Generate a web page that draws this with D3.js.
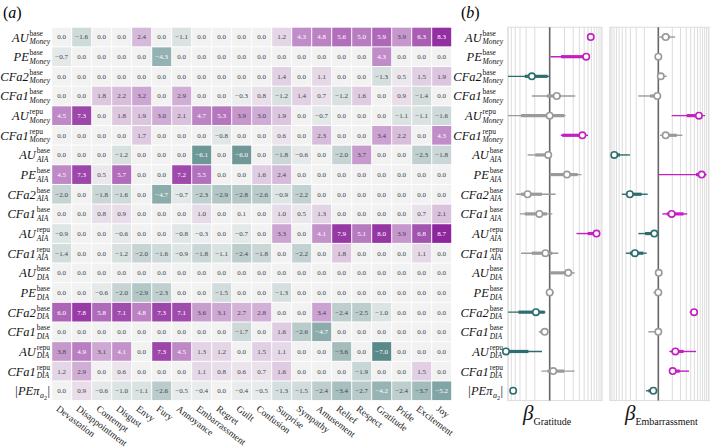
<!DOCTYPE html>
<html><head><meta charset="utf-8">
<script src="https://cdn.jsdelivr.net/npm/d3@7"></script>
<style>
body{margin:0;background:#fff;}
text{font-family:"Liberation Serif","DejaVu Serif",serif;}
</style></head>
<body><svg id="chart" width="710" height="447"></svg>
<script>
const emotions = ["Devastation","Disappointment","Contempt","Disgust","Envy","Fury","Annoyance","Embarrassment","Regret","Guilt","Confusion","Surprise","Sympathy","Amusement","Relief","Respect","Gratitude","Pride","Excitement","Joy"];
const rowNames = ["AU","PE","CFa2","CFa1","AU","CFa1","AU","PE","CFa2","CFa1","AU","CFa1","AU","PE","CFa2","CFa1","AU","CFa1","|PEπ"];
const rowSup = ["base","base","base","base","repu","repu","base","base","base","base","repu","repu","base","base","base","base","repu","repu",""];
const rowSub = ["Money","Money","Money","Money","Money","Money","AIA","AIA","AIA","AIA","AIA","AIA","DIA","DIA","DIA","DIA","DIA","DIA","a"];

const values = [
 [0.0,-1.6,0.0,0.0,2.4,0.0,-1.1,0.0,0.0,0.0,0.0,1.2,4.3,4.8,5.6,5.0,5.9,3.9,6.3,8.3],
 [-0.7,0.0,0.0,0.0,0.0,-4.3,0.0,0.0,0.0,0.0,0.0,0.0,0.0,0.0,0.0,0.0,4.3,0.0,0.0,0.0],
 [0.0,0.0,0.0,0.0,0.0,0.0,0.0,0.0,0.0,0.0,0.0,1.4,0.0,1.1,0.0,0.0,-1.3,0.5,1.5,1.9],
 [0.0,0.0,1.8,2.2,3.2,0.0,2.9,0.0,0.0,-0.3,0.8,-1.2,1.4,0.7,-1.2,1.6,0.0,0.9,-1.4,0.0],
 [4.5,7.3,0.0,1.8,1.9,3.0,2.1,4.7,5.3,3.9,3.0,1.9,0.0,-0.7,0.0,0.0,0.0,-1.1,-1.1,-1.6],
 [0.0,0.0,0.0,0.0,1.7,0.0,0.0,0.0,-0.8,0.0,0.0,0.6,0.0,2.3,0.0,0.0,3.4,2.2,0.0,4.3],
 [0.0,0.0,0.0,-1.2,0.0,0.0,0.0,-6.1,0.0,-6.0,0.0,-1.8,-0.6,0.0,-2.0,3.7,0.0,0.0,-2.3,-1.8],
 [4.5,7.3,0.5,5.7,0.0,0.0,7.2,5.5,0.0,0.0,1.6,2.4,0.0,0.0,0.0,0.0,0.0,0.0,0.0,0.0],
 [-2.0,0.0,-1.8,-1.6,0.0,-4.7,-0.7,-2.3,-2.9,-2.8,-2.6,-0.9,-2.2,0.0,0.0,0.0,0.0,0.0,0.0,0.0],
 [0.0,0.0,0.8,0.9,0.0,0.0,0.0,1.0,0.0,0.1,0.0,1.0,0.5,1.3,0.0,0.0,0.0,0.0,0.7,2.1],
 [-0.9,0.0,0.0,-0.6,0.0,0.0,-0.8,-0.3,0.0,-0.7,0.0,3.3,0.0,4.1,7.9,5.1,8.0,3.9,6.8,8.7],
 [-1.4,0.0,0.0,-1.2,-2.0,-1.6,-0.9,-1.8,-1.1,-2.4,-1.8,0.0,-2.2,0.0,1.8,0.0,0.0,0.0,1.1,0.0],
 [0.0,0.0,0.0,0.0,0.0,0.0,0.0,0.0,0.0,0.0,0.0,0.0,0.0,0.0,0.0,0.0,0.0,0.0,0.0,0.0],
 [0.0,0.0,-0.6,-2.0,-2.9,-2.3,0.0,0.0,-1.5,0.0,0.0,-1.3,0.0,0.0,0.0,0.0,0.0,0.0,0.0,0.0],
 [6.0,7.8,5.8,7.1,4.8,7.3,7.1,3.6,3.1,2.7,2.8,0.0,0.0,3.4,-2.4,-2.5,-1.0,0.0,0.0,0.0],
 [0.0,0.0,0.0,0.0,0.0,0.0,0.0,0.0,0.0,-1.7,0.0,1.6,-2.6,-4.7,0.0,0.0,0.0,0.0,0.0,0.0],
 [3.8,4.9,3.1,4.1,0.0,7.3,4.5,1.3,1.2,0.0,1.5,1.1,0.0,0.0,-3.6,0.0,-7.0,0.0,0.0,0.0],
 [1.2,2.9,0.0,0.6,0.0,0.0,0.0,1.1,0.8,0.6,0.7,1.6,0.0,0.0,0.0,-1.9,0.0,0.0,1.5,0.0],
 [0.0,0.9,-0.6,-1.0,-1.1,-2.6,-0.5,-0.4,0.0,-0.4,-0.5,-1.3,-1.5,-2.4,-3.4,-2.7,-4.2,-2.4,-3.7,-5.2]
];

// Panel (b): beta estimates, 95% (thin) and 50% (thick) intervals; sig: pos / neg / ns
const gratMean = [5.8,4.5,-1.3,0.39,0.0,3.6,-0.07,1.24,-1.8,-0.62,7.9,-0.22,1.38,0.0,-0.9,-0.26,-6.7,0.18,-4.5];
const gratLo95 = [4.8,0.04,-6.0,-1.3,-6.0,0.68,-1.8,0.0,-3.8,-3.0,2.5,-2.8,0.0,0.0,-6.0,-0.67,-6.7,-0.47,-5.4];
const gratHi95 = [6.4,5.5,0.0,2.3,1.1,5.0,0.0,3.4,0.32,0.13,8.6,0.5,2.2,0.22,-0.22,-0.11,-0.43,2.2,-3.8];
const gratLo50 = [5.3,0.7,-2.2,-0.14,-2.8,0.79,-0.96,0.04,-2.8,-2.2,4.9,-1.3,0.04,0.0,-3.3,-0.55,-6.7,-0.11,-5.0];
const gratHi50 = [6.1,4.7,-0.1,0.68,0.97,4.1,-0.14,2.7,-0.43,-0.14,8.3,0.13,1.5,0.0,-0.26,-0.22,-1.7,0.97,-4.0];
const gratSig  = ["pos","pos","neg","ns","ns","pos","ns","ns","ns","ns","pos","ns","ns","ns","neg","ns","neg","ns","neg"];

const embMean = [0.44,0.0,0.13,-0.05,6.5,0.44,-7.9,7.6,-3.1,0.94,-0.22,-2.2,0.02,0.0,4.9,0.0,1.33,1.04,-0.28];
const embLo95 = [0.0,0.0,0.1,-1.7,0.94,0.09,-7.9,0.0,-5.1,0.22,-1.7,-4.0,0.02,-0.28,3.7,-0.64,0.73,0.73,-0.84];
const embHi95 = [1.3,0.0,0.52,0.09,9.2,2.3,-3.1,10.0,-0.69,3.2,0.0,-0.78,0.02,0.0,5.7,0.09,5.5,3.6,-0.05];
const embLo50 = [0.18,0.0,0.13,-0.51,3.1,0.28,-7.9,5.5,-3.8,0.52,-0.93,-3.1,0.02,0.0,4.2,0.0,0.94,0.79,-0.64];
const embHi50 = [0.79,0.0,0.3,0.0,7.6,1.5,-5.7,9.4,-1.3,2.5,-0.08,-1.1,0.02,0.0,5.3,0.0,2.5,1.9,-0.08];
const embSig  = ["ns","ns","ns","ns","pos","ns","neg","pos","neg","pos","neg","neg","ns","ns","pos","ns","pos","pos","neg"];

const gridTicks1 = [-6,-5,-4,-3,-2,-1,1,2,3,4,5,6,7,8,9,10];
const gridTicks2 = [-10,-9,-8,-7,-6,-5,-4,-3,-2,-1,1,2,3,4,5,6,7,8,9,10,11];

const svg = d3.select("#chart");
const yTop = 27.2, yBot = 400.6, xLeft = 51.7, xRight = 451.7;

const x = d3.scaleBand().domain(d3.range(emotions.length)).range([xLeft, xRight]);
const y = d3.scaleBand().domain(d3.range(rowNames.length)).range([yTop, yBot]);
const color = d3.scaleLinear().domain([-9,0,9]).range(["#2f6b6b","#f2f2f2","#8a1f9a"]);
const fmt = d3.format(".1f");
const sigColor = {pos:"#c41fc0", neg:"#2c6d6d", ns:"#9a9a9a"};

// panel labels
svg.append("text").attr("x",3).attr("y",18).style("font-size","16px").html('(<tspan font-style="italic">a</tspan>)');
svg.append("text").attr("x",461).attr("y",18).style("font-size","16px").html('(<tspan font-style="italic">b</tspan>)');

// heatmap
const cells = svg.append("g");
values.forEach((row, i) => {
  row.forEach((v, j) => {
    cells.append("rect")
      .attr("x", x(j)+0.5).attr("y", y(i)+0.5)
      .attr("width", x.bandwidth()-1).attr("height", y.bandwidth()-1)
      .attr("fill", color(v));
    cells.append("text")
      .attr("x", x(j)+x.bandwidth()/2).attr("y", y(i)+y.bandwidth()/2+2.4)
      .attr("text-anchor","middle")
      .style("font-size","7px")
      .attr("fill", Math.abs(v) >= 4 ? "#ffffff" : "#444")
      .text(fmt(v));
  });
});

// column labels
emotions.forEach((e, j) => {
  const cx = x(j) + x.bandwidth()/2 - 6, cy = yBot + 9.5;
  svg.append("text")
    .attr("transform", `translate(${cx},${cy}) rotate(37)`)
    .style("font-size","9.5px").attr("fill","#222")
    .text(e);
});

// row labels
function drawLabel(i, xr) {
  const yc = y(i) + y.bandwidth()/2;
  const g = svg.append("g");
  let total;
  const main = g.append("text").attr("x",0).attr("y",yc+4.5)
    .style("font-size","12.5px").style("font-style","italic").attr("fill","#111").text(rowNames[i]);
  const w = main.node().getComputedTextLength();
  if (rowSup[i] === "") {
    const s = g.append("text").attr("x", w+0.5).attr("y", yc+7)
      .style("font-size","8px").style("font-style","italic").attr("fill","#111").text(rowSub[i]);
    const ws = s.node().getComputedTextLength();
    const s2 = g.append("text").attr("x", w+0.5+ws).attr("y", yc+9.5)
      .style("font-size","6px").attr("fill","#111").text("2");
    const ws2 = s2.node().getComputedTextLength();
    const bar = g.append("text").attr("x", w+1+ws+ws2).attr("y", yc+4.5)
      .style("font-size","12.5px").attr("fill","#111").text("|");
    total = w+1+ws+ws2+bar.node().getComputedTextLength();
  } else {
    const sup = g.append("text").attr("x", w+0.8).attr("y", yc-1.5)
      .style("font-size","7.5px").attr("fill","#111").text(rowSup[i]);
    const sub = g.append("text").attr("x", w+0.8).attr("y", yc+7)
      .style("font-size","7.5px").style("font-style","italic").attr("fill","#111").text(rowSub[i]);
    total = w+0.8+Math.max(sup.node().getComputedTextLength(), sub.node().getComputedTextLength());
  }
  g.attr("transform", `translate(${xr-total},0)`);
}
rowNames.forEach((n, i) => { drawLabel(i, 50); drawLabel(i, 503); });

// panel b
function panel(x0, x1, domain, ticks, mean, lo95, hi95, lo50, hi50, sig, name) {
  const sx = d3.scaleSymlog().constant(1).domain(domain).range([x0, x1]);
  const g = svg.append("g");
  g.append("rect").attr("x",x0).attr("y",yTop).attr("width",x1-x0).attr("height",yBot-yTop)
    .attr("fill","none").attr("stroke","#dcdcdc");
  g.selectAll("line.grid").data(ticks).join("line")
    .attr("x1", d=>sx(d)).attr("x2", d=>sx(d)).attr("y1", yTop).attr("y2", yBot)
    .attr("stroke","#dcdcdc").attr("stroke-width",1);
  g.append("line").attr("x1",sx(0)).attr("x2",sx(0)).attr("y1",yTop).attr("y2",yBot)
    .attr("stroke","#666").attr("stroke-width",1.6);
  mean.forEach((m, i) => {
    const yc = y(i) + y.bandwidth()/2, c = sigColor[sig[i]];
    g.append("line").attr("x1",sx(lo95[i])).attr("x2",sx(hi95[i])).attr("y1",yc).attr("y2",yc)
      .attr("stroke",c).attr("stroke-width",1.4);
    g.append("line").attr("x1",sx(lo50[i])).attr("x2",sx(hi50[i])).attr("y1",yc).attr("y2",yc)
      .attr("stroke",c).attr("stroke-width",3.2);
    g.append("circle").attr("cx",sx(m)).attr("cy",yc).attr("r",3.2)
      .attr("fill","#fff").attr("stroke",c).attr("stroke-width",1.6);
  });
  const lbl = svg.append("text").attr("x", x0 + 15).attr("y", 420).attr("fill","#111");
  lbl.append("tspan").style("font-size","21px").style("font-style","italic").text("β");
  lbl.append("tspan").attr("dy",5).style("font-size","10px").text(name);
}
panel(508, 602, [-6, 10.5], gridTicks1, gratMean, gratLo95, gratHi95, gratLo50, gratHi50, gratSig, "Gratitude");
panel(610, 710, [-10, 12], gridTicks2, embMean, embLo95, embHi95, embLo50, embHi50, embSig, "Embarrassment");
</script></body></html>
